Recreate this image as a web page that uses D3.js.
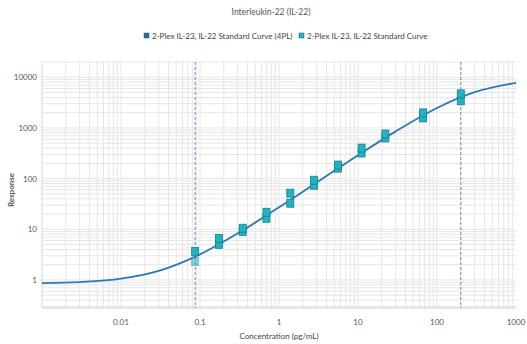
<!DOCTYPE html>
<html>
<head>
<meta charset="utf-8">
<script src="https://cdn.jsdelivr.net/npm/d3@7"></script>
<style>
  body { margin: 0; background: #fff; }
  text { font-family: Lato, "Open Sans", sans-serif; }
</style>
</head>
<body>
<div id="chart"></div>
<script>
// standards (pg/mL) and two replicate responses each
var concentrations = [0.0868, 0.174, 0.347, 0.694, 1.39, 2.78, 5.56, 11.1, 22.2, 66.7, 200];
var responseRep1 = [3.67, 6.6, 10.5, 21.7, 51.6, 93, 185, 400, 760, 1980, 4700];
var responseRep2 = [2.32, 5.05, 9.1, 16.5, 32.7, 74, 161, 320, 634, 1580, 3430];

// fitted curve
var curveConc = [0.001, 0.003, 0.01, 0.03, 0.1, 0.3, 1, 3, 10, 30, 100, 300, 1000];
var curveResp = [0.87, 0.91, 1.06, 1.51, 3.2, 8.3, 27.2, 84, 288, 856, 2480, 5080, 7760];

var limits = [0.0868, 200];
var xTicks = [0.01, 0.1, 1, 10, 100, 1000];
var yTicks = [1, 10, 100, 1000, 10000];

var width = 527, height = 344;
var plotLeft = 42, plotRight = 516, plotTop = 62, plotBottom = 308;

var svg = d3.select('#chart')
    .append('svg')
    .attr('width', width)
    .attr('height', height);

var x = d3.scaleLog().domain([0.001, 1000]).range([plotLeft, plotRight]);
var y = d3.scaleLog().domain([0.28, 20000]).range([plotBottom, plotTop]);

// grid lines (1..9 per decade)
var xGrid = [], yGrid = [];
for (var e = -3; e < 3; e++) {
    for (var m = 1; m < 10; m++) xGrid.push(m * Math.pow(10, e));
}
for (var e = -1; e < 5; e++) {
    for (var m = 1; m < 10; m++) {
        var v = m * Math.pow(10, e);
        if (v >= 0.28 && v <= 20000) yGrid.push(v);
    }
}

svg.append('g').selectAll('line')
    .data(xGrid.slice(1))
    .enter()
    .append('line')
    .attr('x1', function(d) { return x(d); })
    .attr('x2', function(d) { return x(d); })
    .attr('y1', plotTop)
    .attr('y2', plotBottom)
    .attr('stroke', '#e6e6e6')
    .attr('stroke-width', 1);

svg.append('g').selectAll('line')
    .data(yGrid)
    .enter()
    .append('line')
    .attr('x1', plotLeft)
    .attr('x2', plotRight)
    .attr('y1', function(d) { return y(d); })
    .attr('y2', function(d) { return y(d); })
    .attr('stroke', '#e6e6e6')
    .attr('stroke-width', 1);

// axes
svg.append('line')
    .attr('x1', plotLeft).attr('x2', plotRight)
    .attr('y1', plotBottom).attr('y2', plotBottom)
    .attr('stroke', '#cfcfcf');
svg.append('line')
    .attr('x1', plotLeft).attr('x2', plotLeft)
    .attr('y1', plotTop).attr('y2', plotBottom)
    .attr('stroke', '#d8d8d8');

svg.append('g').selectAll('text')
    .data(xTicks)
    .enter()
    .append('text')
    .attr('x', function(d) { return x(d); })
    .attr('y', 325)
    .attr('text-anchor', 'middle')
    .attr('font-size', 8)
    .attr('fill', '#555')
    .text(function(d) { return d; });

svg.append('g').selectAll('text')
    .data(yTicks)
    .enter()
    .append('text')
    .attr('x', 37)
    .attr('y', function(d) { return y(d) + 3; })
    .attr('text-anchor', 'end')
    .attr('font-size', 8)
    .attr('fill', '#555')
    .text(function(d) { return d; });

// limit lines
svg.append('g').selectAll('line')
    .data(limits)
    .enter()
    .append('line')
    .attr('x1', function(d) { return x(d); })
    .attr('x2', function(d) { return x(d); })
    .attr('y1', plotTop)
    .attr('y2', plotBottom)
    .attr('stroke', '#5b93c4')
    .attr('stroke-width', 1)
    .attr('stroke-dasharray', '3,2');

// curve
var curveData = curveConc.map(function(c, i) { return [c, curveResp[i]]; });
var line = d3.line()
    .x(function(d) { return x(d[0]); })
    .y(function(d) { return y(d[1]); })
    .curve(d3.curveMonotoneX);

svg.append('path')
    .datum(curveData)
    .attr('d', line)
    .attr('fill', 'none')
    .attr('stroke', '#2e78b0')
    .attr('stroke-width', 1.8);

// points
var pts = [];
concentrations.forEach(function(c, i) {
    pts.push({ c: c, r: responseRep2[i], faded: i === 0 });
    pts.push({ c: c, r: responseRep1[i], faded: false });
});

svg.append('g').selectAll('rect')
    .data(pts)
    .enter()
    .append('rect')
    .attr('x', function(d) { return x(d.c) - 3.5; })
    .attr('y', function(d) { return y(d.r) - 4; })
    .attr('width', 7)
    .attr('height', 8)
    .attr('fill', '#22b2c2')
    .attr('stroke', '#17808c')
    .attr('stroke-width', 0.8)
    .attr('opacity', function(d) { return d.faded ? 0.55 : 1; });

// title
svg.append('text')
    .attr('x', 271).attr('y', 15)
    .attr('text-anchor', 'middle')
    .attr('font-size', 8.5)
    .attr('fill', '#555')
    .text('Interleukin-22 (IL-22)');

// legend
var legendItems = [
    { label: '2-Plex IL-23, IL-22 Standard Curve (4PL)', color: '#2c6b9e', x: 144 },
    { label: '2-Plex IL-23, IL-22 Standard Curve', color: '#22b2c2', x: 299 }
];
var lg = svg.append('g').selectAll('g')
    .data(legendItems)
    .enter()
    .append('g');
lg.append('rect')
    .attr('x', function(d) { return d.x; })
    .attr('y', 33)
    .attr('width', 5)
    .attr('height', 5)
    .attr('fill', function(d) { return d.color; })
    .attr('stroke', '#1f5f78')
    .attr('stroke-width', 0.5);
lg.append('text')
    .attr('x', function(d) { return d.x + 8; })
    .attr('y', 38.5)
    .attr('font-size', 8)
    .attr('fill', '#444')
    .text(function(d) { return d.label; });

// axis titles
svg.append('text')
    .attr('x', 279).attr('y', 339)
    .attr('text-anchor', 'middle')
    .attr('font-size', 8)
    .attr('fill', '#444')
    .text('Concentration (pg/mL)');

svg.append('text')
    .attr('transform', 'translate(14,' + 190 + ') rotate(-90)')
    .attr('text-anchor', 'middle')
    .attr('font-size', 8)
    .attr('font-weight', 'bold')
    .attr('fill', '#555')
    .text('Response');
</script>
</body>
</html>
